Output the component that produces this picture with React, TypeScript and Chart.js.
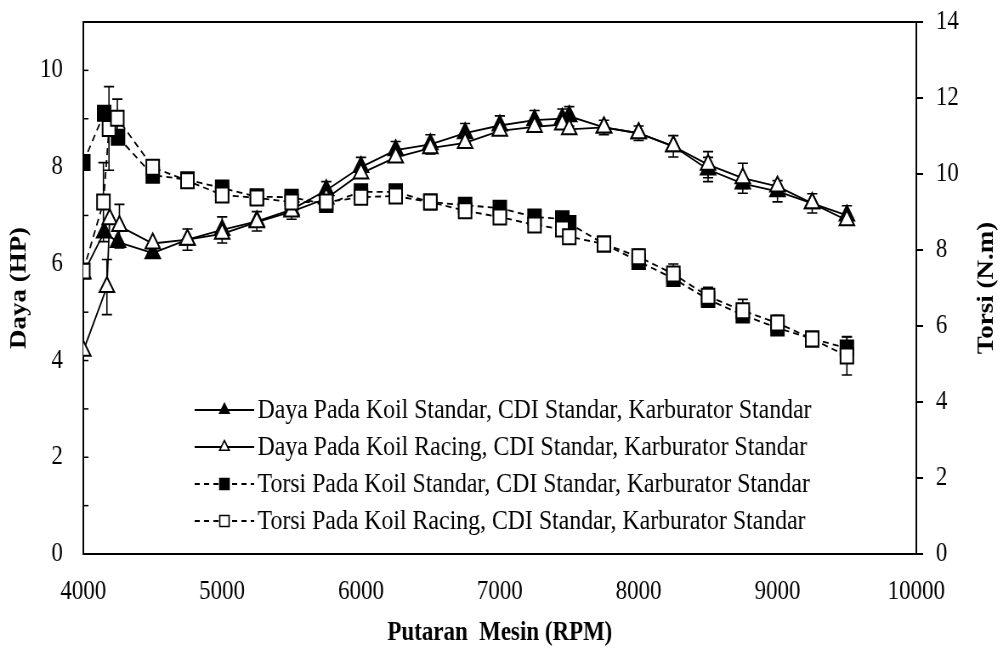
import React, { useEffect, useRef } from 'react';
import { Chart, registerables } from 'chart.js';

Chart.register(...registerables);

// ---------- data ----------
const rpmDayaStd = [4000, 4150, 4250, 4500, 4750, 5000, 5250, 5500, 5750, 6000, 6250, 6500, 6750, 7000, 7250, 7450, 7500, 7750, 8000, 8250, 8500, 8750, 9000, 9250, 9500];
const dayaStd = [5.8, 6.65, 6.45, 6.22, 6.5, 6.7, 6.88, 7.12, 7.52, 8.0, 8.35, 8.47, 8.7, 8.86, 8.97, 9.0, 9.05, 8.82, 8.7, 8.43, 7.95, 7.66, 7.5, 7.25, 7.0];
const errDayaStd = [0, 0, 0, 0, 0.22, 0.27, 0.2, 0.2, 0.18, 0.2, 0.18, 0.2, 0.2, 0.2, 0.2, 0.2, 0.2, 0.15, 0.15, 0.22, 0.25, 0.1, 0.22, 0.2, 0.2];

const rpmDayaRacing = [4000, 4170, 4190, 4260, 4500, 4750, 5000, 5250, 5500, 5750, 6000, 6250, 6500, 6750, 7000, 7250, 7450, 7500, 7750, 8000, 8250, 8500, 8750, 9000, 9250, 9500];
const dayaRacing = [4.2, 5.52, 6.92, 6.78, 6.42, 6.5, 6.62, 6.86, 7.08, 7.35, 7.87, 8.2, 8.39, 8.5, 8.75, 8.83, 8.88, 8.78, 8.82, 8.7, 8.43, 8.05, 7.77, 7.6, 7.25, 6.9];
const errDayaRacing = [0, 0.57, 0, 0.45, 0, 0, 0, 0, 0, 0, 0, 0, 0, 0, 0, 0, 0, 0, 0, 0, 0, 0.27, 0.31, 0, 0, 0];

const rpmTorsiStd = [4000, 4150, 4250, 4500, 4750, 5000, 5250, 5500, 5750, 6000, 6250, 6500, 6750, 7000, 7250, 7450, 7500, 7750, 8000, 8250, 8500, 8750, 9000, 9250, 9500];
const torsiStd = [10.3, 11.6, 10.97, 9.97, 9.85, 9.63, 9.4, 9.39, 9.2, 9.53, 9.53, 9.26, 9.18, 9.1, 8.87, 8.82, 8.7, 8.16, 7.7, 7.25, 6.7, 6.29, 5.95, 5.66, 5.42];
const errTorsiStd = [0, 0, 0, 0, 0, 0, 0, 0, 0, 0, 0, 0, 0, 0, 0, 0, 0, 0, 0, 0, 0, 0, 0, 0, 0.3];

const rpmTorsiRacing = [4000, 4145, 4185, 4245, 4500, 4750, 5000, 5250, 5500, 5750, 6000, 6250, 6500, 6750, 7000, 7250, 7450, 7500, 7750, 8000, 8250, 8500, 8750, 9000, 9250, 9500];
const torsiRacing = [7.45, 9.26, 11.2, 11.47, 10.18, 9.82, 9.45, 9.37, 9.26, 9.26, 9.39, 9.42, 9.26, 9.03, 8.87, 8.66, 8.55, 8.35, 8.16, 7.82, 7.37, 6.78, 6.4, 6.08, 5.66, 5.21];
const errTorsiRacing = [0, 1.04, 1.1, 0.5, 0, 0, 0, 0, 0, 0, 0, 0, 0, 0, 0, 0, 0, 0, 0.15, 0.2, 0.26, 0.24, 0.3, 0.2, 0.15, 0.5];

const legendLabels = [
  'Daya Pada Koil Standar, CDI Standar, Karburator Standar',
  'Daya Pada Koil Racing, CDI Standar, Karburator Standar',
  'Torsi Pada Koil Standar, CDI Standar, Karburator Standar',
  'Torsi Pada Koil Racing, CDI Standar, Karburator Standar',
];
const xTitle = 'Putaran  Mesin (RPM)';
const yLeftTitle = 'Daya (HP)';
const yRightTitle = 'Torsi (N.m)';

// ---------- layout (canvas units; canvas is squeezed horizontally by CSS) ----------
const CW = 1180;
const CH = 649;
const DW = 1003;
const FONT = 'Liberation Serif';

const toPts = (xs: number[], ys: number[]) => xs.map((x, i) => ({ x, y: ys[i] }));

const errorBarPlugin = {
  id: 'errorBars',
  beforeDatasetsDraw(chart: any) {
    const ctx = chart.ctx;
    ctx.save();
    ctx.strokeStyle = '#000';
    ctx.lineWidth = 1.6;
    chart.data.datasets.forEach((ds: any, i: number) => {
      const errs: number[] = ds.errors;
      if (!errs) return;
      const meta = chart.getDatasetMeta(i);
      const scale = chart.scales[ds.yAxisID];
      meta.data.forEach((pt: any, j: number) => {
        const e = errs[j];
        if (!e) return;
        const v = ds.data[j].y;
        const yt = scale.getPixelForValue(v + e);
        const yb = scale.getPixelForValue(v - e);
        const x = pt.x;
        ctx.beginPath();
        ctx.moveTo(x, yt);
        ctx.lineTo(x, yb);
        ctx.moveTo(x - 6, yt);
        ctx.lineTo(x + 6, yt);
        ctx.moveTo(x - 6, yb);
        ctx.lineTo(x + 6, yb);
        ctx.stroke();
      });
    });
    ctx.restore();
  },
};

function drawMarker(ctx: CanvasRenderingContext2D, kind: string, filled: boolean, x: number, y: number) {
  ctx.beginPath();
  if (kind === 'triangle') {
    const r = 6.5;
    ctx.moveTo(x, y - r);
    ctx.lineTo(x + r * 0.866, y + r * 0.5);
    ctx.lineTo(x - r * 0.866, y + r * 0.5);
    ctx.closePath();
  } else {
    const s = 5.5;
    ctx.rect(x - s, y - s, 2 * s, 2 * s);
  }
  ctx.fillStyle = filled ? '#000' : '#fff';
  ctx.fill();
  ctx.lineWidth = 1.6;
  ctx.setLineDash([]);
  ctx.strokeStyle = '#000';
  ctx.stroke();
}

const framePlugin = {
  id: 'frameLegend',
  afterDraw(chart: any) {
    const ctx = chart.ctx;
    const { left, right, top, bottom } = chart.chartArea;
    ctx.save();
    // top frame line
    ctx.strokeStyle = '#000';
    ctx.lineWidth = 2;
    ctx.beginPath();
    ctx.moveTo(left - 1, top);
    ctx.lineTo(right + 1, top);
    ctx.stroke();
    // inward ticks on left axis
    const ys = chart.scales.y;
    ctx.lineWidth = 1.5;
    for (let v = 1; v <= 10; v++) {
      const py = ys.getPixelForValue(v);
      ctx.beginPath();
      ctx.moveTo(left, py);
      ctx.lineTo(left + 6, py);
      ctx.stroke();
    }
    // outward ticks on right axis
    const y1 = chart.scales.y1;
    ctx.lineWidth = 2;
    y1.ticks.forEach((t: any) => {
      const py = y1.getPixelForValue(t.value);
      ctx.beginPath();
      ctx.moveTo(right, py);
      ctx.lineTo(right + 8, py);
      ctx.stroke();
    });
    // right axis title (reads bottom to top)
    ctx.fillStyle = '#000';
    ctx.font = `bold 27px "${FONT}"`;
    ctx.textAlign = 'center';
    ctx.textBaseline = 'middle';
    ctx.save();
    ctx.translate(1161, (top + bottom) / 2);
    ctx.rotate(-Math.PI / 2);
    ctx.fillText(yRightTitle, 0, 0);
    ctx.restore();

    // legend
    const rows = [410, 447, 484, 521];
    const kinds = ['triangle', 'triangle', 'rect', 'rect'];
    const filled = [true, false, true, false];
    const dashed = [false, false, true, true];
    const x0 = 229;
    const x1 = 299;
    const xm = 264;
    ctx.font = `28px "${FONT}"`;
    ctx.textAlign = 'left';
    rows.forEach((ry, i) => {
      ctx.strokeStyle = '#000';
      ctx.lineWidth = 1.8;
      ctx.setLineDash(dashed[i] ? [6, 5] : []);
      ctx.beginPath();
      ctx.moveTo(x0, ry);
      ctx.lineTo(x1, ry);
      ctx.stroke();
      ctx.setLineDash([]);
      drawMarker(ctx, kinds[i], filled[i], xm, ry);
      ctx.fillStyle = '#000';
      ctx.textBaseline = 'middle';
      ctx.fillText(legendLabels[i], 303, ry + 1);
    });
    ctx.restore();
  },
};

export default function App() {
  const ref = useRef<HTMLCanvasElement | null>(null);

  useEffect(() => {
    if (!ref.current) return;
    const tickFont = { family: FONT, size: 27 };
    const titleFont = { family: FONT, size: 27, weight: 'bold' as const };
    const common = {
      borderColor: '#000',
      pointBorderColor: '#000',
      pointBorderWidth: 2,
      borderWidth: 1.8,
      showLine: true,
      fill: false,
      tension: 0,
    };
    const chart = new Chart(ref.current, {
      type: 'line',
      data: {
        datasets: [
          {
            ...common,
            label: legendLabels[0],
            data: toPts(rpmDayaStd, dayaStd),
            errors: errDayaStd,
            yAxisID: 'y',
            pointStyle: 'triangle',
            pointRadius: 10,
            pointBackgroundColor: '#000',
            order: 3,
          } as any,
          {
            ...common,
            label: legendLabels[1],
            data: toPts(rpmDayaRacing, dayaRacing),
            errors: errDayaRacing,
            yAxisID: 'y',
            pointStyle: 'triangle',
            pointRadius: 10,
            pointBackgroundColor: '#fff',
            order: 2,
          } as any,
          {
            ...common,
            label: legendLabels[2],
            data: toPts(rpmTorsiStd, torsiStd),
            errors: errTorsiStd,
            yAxisID: 'y1',
            pointStyle: 'rect',
            pointRadius: 10.6,
            pointBackgroundColor: '#000',
            borderDash: [7, 5],
            order: 1,
          } as any,
          {
            ...common,
            label: legendLabels[3],
            data: toPts(rpmTorsiRacing, torsiRacing),
            errors: errTorsiRacing,
            yAxisID: 'y1',
            pointStyle: 'rect',
            pointRadius: 10.6,
            pointBackgroundColor: '#fff',
            borderDash: [7, 5],
            order: 0,
          } as any,
        ],
      },
      options: {
        responsive: false,
        animation: false,
        devicePixelRatio: 1,
        layout: { padding: { top: 22, left: 0, right: 0, bottom: 0 } },
        plugins: { legend: { display: false }, tooltip: { enabled: false } },
        scales: {
          x: {
            type: 'linear',
            position: 'bottom',
            min: 4000,
            max: 10000,
            ticks: { stepSize: 1000, font: tickFont, color: '#000', padding: 0, callback: (v: any) => String(v) },
            grid: { display: false, drawTicks: true, tickLength: 22 },
            border: { display: true, color: '#000', width: 2 },
            title: { display: true, text: xTitle, font: titleFont, color: '#000', padding: { top: 0, bottom: 0 } },
            afterFit: (s: any) => { s.height = 95; },
          },
          y: {
            type: 'linear',
            position: 'left',
            min: 0,
            max: 11,
            ticks: { stepSize: 1, font: tickFont, color: '#000', padding: 0, callback: (v: any) => (Number(v) % 2 === 0 ? String(v) : '') },
            grid: { display: false, drawTicks: true, tickLength: 24 },
            border: { display: true, color: '#000', width: 2 },
            title: { display: true, text: yLeftTitle, font: titleFont, color: '#000', padding: { top: 7, bottom: 0 } },
            afterFit: (s: any) => { s.width = 98; },
          },
          y1: {
            type: 'linear',
            position: 'right',
            min: 0,
            max: 14,
            ticks: { stepSize: 2, font: tickFont, color: '#000', padding: 0, callback: (v: any) => String(v) },
            grid: { display: false, drawTicks: true, tickLength: 23 },
            border: { display: true, color: '#000', width: 2 },
            afterFit: (s: any) => { s.width = 102; },
          },
        },
      } as any,
      plugins: [errorBarPlugin, framePlugin],
    });
    return () => chart.destroy();
  }, []);

  return (
    <div style={{ position: 'absolute', left: 0, top: 0, width: DW, height: CH, background: '#fff' }}>
      <canvas ref={ref} width={CW} height={CH} style={{ width: `${DW}px`, height: `${CH}px`, display: 'block' }} />
    </div>
  );
}
